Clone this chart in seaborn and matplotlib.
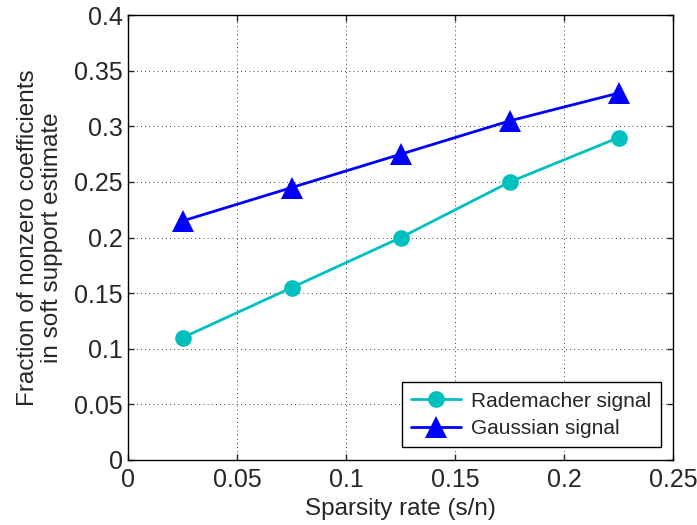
import matplotlib
matplotlib.use("Agg")
import matplotlib.pyplot as plt
import seaborn as sns
import pandas as pd

sparsity = [0.025, 0.075, 0.125, 0.175, 0.225]
rademacher = [0.11, 0.155, 0.20, 0.25, 0.29]
gaussian = [0.215, 0.245, 0.275, 0.305, 0.33]
xticks = [0, 0.05, 0.1, 0.15, 0.2, 0.25]
yticks = [0, 0.05, 0.1, 0.15, 0.2, 0.25, 0.3, 0.35, 0.4]

sns.set_style("white")
plt.rcParams['font.family'] = ['Liberation Sans', 'DejaVu Sans']

df = pd.DataFrame({
    "x": sparsity * 2,
    "y": rademacher + gaussian,
    "series": ["Rademacher signal"] * len(sparsity) + ["Gaussian signal"] * len(sparsity),
})

fig = plt.figure(figsize=(6.97, 5.25), dpi=100)
ax = fig.add_axes([0.184, 0.124, 0.782, 0.847])

sns.lineplot(data=df, x="x", y="y", hue="series", style="series",
             palette={"Rademacher signal": "#00BFBF", "Gaussian signal": "#0000FF"},
             markers={"Rademacher signal": "o", "Gaussian signal": "^"},
             dashes=False, linewidth=2, markersize=12, markeredgewidth=0,
             ax=ax)
for line in ax.lines:
    if line.get_marker() == "^":
        line.set_markersize(16)

ax.set_xlim(0, 0.25)
ax.set_ylim(0, 0.4)
ax.set_xticks(xticks)
ax.set_yticks(yticks)
ax.set_xticklabels(["0", "0.05", "0.1", "0.15", "0.2", "0.25"])
ax.set_yticklabels(["0", "0.05", "0.1", "0.15", "0.2", "0.25", "0.3", "0.35", "0.4"])
ax.tick_params(direction="in", length=4, labelsize=18, width=1, top=True, right=True,
               bottom=True, left=True)
ax.tick_params(axis="x", pad=6)
ax.tick_params(axis="y", pad=4)
ax.grid(True, linestyle=(0, (1, 4)), color="black", linewidth=0.6)
for s in ax.spines.values():
    s.set_color("black")
    s.set_linewidth(1)
ax.set_xlabel("Sparsity rate (s/n)", fontsize=17.5, labelpad=4)
ax.set_ylabel("Fraction of nonzero coefficients\nin soft support estimate", fontsize=17.5,
              labelpad=8, linespacing=1.1)

handles, labels = ax.get_legend_handles_labels()
leg = ax.legend(handles, labels, loc="lower right", fontsize=15, frameon=True,
                fancybox=False, edgecolor="black", framealpha=1, borderaxespad=0.6,
                handlelength=2.4, borderpad=0.45, labelspacing=0.4, handletextpad=0.5)
leg.get_frame().set_linewidth(1)

fig.savefig("out.png", dpi=100)
